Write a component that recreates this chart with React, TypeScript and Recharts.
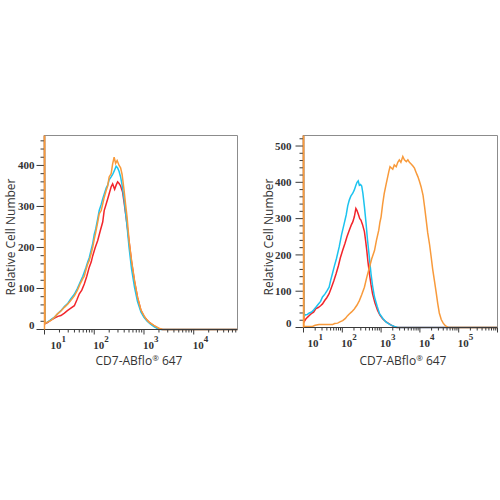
import React from 'react';
import { LineChart, Line, XAxis, YAxis } from 'recharts';

// Histograms: [log10 intensity, cell count]. The first bin piles up to full scale.
type Series = [number, number][];

const leftRed: Series = [
  [1.0, 473], [1.01, 14], [1.06, 17], [1.12, 22], [1.2, 28], [1.27, 32], [1.33, 34],
  [1.4, 40], [1.46, 46], [1.53, 52], [1.6, 58], [1.65, 72], [1.7, 87], [1.75, 96],
  [1.8, 111], [1.85, 130], [1.9, 152], [1.94, 165], [1.97, 180], [2.02, 200],
  [2.07, 217], [2.12, 240], [2.17, 262], [2.2, 290], [2.24, 306], [2.27, 318],
  [2.3, 331], [2.34, 348], [2.37, 355], [2.41, 342], [2.44, 352], [2.47, 360],
  [2.5, 356], [2.53, 350], [2.57, 335], [2.6, 310], [2.64, 274], [2.67, 245],
  [2.7, 215], [2.75, 165], [2.81, 117], [2.87, 78], [2.94, 46], [3.0, 32],
  [3.06, 23], [3.12, 16], [3.2, 9], [3.28, 3], [3.36, 0], [4.88, 0],
];

const leftCyan: Series = [
  [1.0, 473], [1.01, 15], [1.06, 18], [1.13, 24], [1.2, 30], [1.26, 38], [1.33, 46],
  [1.4, 56], [1.47, 64], [1.53, 75], [1.6, 86], [1.66, 100], [1.72, 116], [1.77, 130],
  [1.83, 150], [1.87, 165], [1.9, 175], [1.94, 195], [1.97, 210], [2.0, 232],
  [2.03, 245], [2.07, 270], [2.1, 290], [2.14, 305], [2.17, 318], [2.2, 330],
  [2.24, 345], [2.27, 352], [2.3, 365], [2.34, 372], [2.37, 378], [2.4, 386],
  [2.44, 398], [2.47, 394], [2.5, 385], [2.53, 372], [2.56, 352], [2.6, 318],
  [2.63, 285], [2.66, 252], [2.7, 200], [2.75, 148], [2.81, 103], [2.87, 68],
  [2.94, 42], [3.0, 30], [3.06, 21], [3.12, 14], [3.2, 7], [3.28, 2], [3.34, 0],
  [4.88, 0],
];

const leftOrange: Series = [
  [1.0, 473], [1.01, 15], [1.06, 18], [1.13, 22], [1.2, 30], [1.26, 38], [1.33, 45],
  [1.4, 54], [1.47, 62], [1.53, 71], [1.6, 82], [1.66, 95], [1.72, 112], [1.77, 124],
  [1.8, 130], [1.83, 144], [1.87, 160], [1.9, 168], [1.94, 186], [1.97, 201],
  [2.0, 220], [2.03, 237], [2.07, 262], [2.1, 282], [2.14, 290], [2.17, 306],
  [2.2, 322], [2.24, 339], [2.27, 350], [2.3, 372], [2.34, 380], [2.37, 404],
  [2.4, 420], [2.43, 405], [2.46, 412], [2.5, 400], [2.53, 394], [2.56, 378],
  [2.6, 339], [2.63, 305], [2.66, 274], [2.7, 217], [2.75, 168], [2.81, 119],
  [2.87, 79], [2.94, 47], [3.0, 34], [3.04, 26], [3.1, 18], [3.2, 10], [3.3, 3],
  [3.38, 0], [4.88, 0],
];

const rightRed: Series = [
  [1.0, 529], [1.01, 15], [1.05, 22], [1.1, 28], [1.15, 33], [1.2, 38], [1.26, 42],
  [1.32, 52], [1.38, 55], [1.44, 60], [1.49, 65], [1.55, 75], [1.6, 82], [1.66, 93],
  [1.72, 110], [1.78, 128], [1.84, 148], [1.9, 170], [1.95, 192], [2.01, 213],
  [2.07, 232], [2.12, 250], [2.18, 268], [2.23, 282], [2.27, 291], [2.31, 305],
  [2.35, 328], [2.38, 322], [2.42, 310], [2.45, 300], [2.48, 296], [2.52, 284],
  [2.57, 264], [2.6, 240], [2.63, 213], [2.66, 182], [2.7, 148], [2.74, 118],
  [2.78, 93], [2.84, 68], [2.91, 47], [2.97, 34], [3.04, 24], [3.12, 16],
  [3.21, 10], [3.3, 4], [3.39, 0], [6.0, 0],
];

const rightCyan: Series = [
  [1.0, 529], [1.01, 30], [1.05, 35], [1.1, 36], [1.15, 40], [1.2, 42], [1.26, 48],
  [1.32, 56], [1.38, 64], [1.44, 72], [1.49, 84], [1.55, 92], [1.6, 100], [1.66, 111],
  [1.7, 130], [1.75, 150], [1.79, 167], [1.85, 190], [1.92, 222], [1.98, 255],
  [2.05, 287], [2.1, 310], [2.14, 335], [2.18, 351], [2.22, 362], [2.27, 370],
  [2.31, 379], [2.35, 392], [2.38, 400], [2.41, 404], [2.44, 392], [2.47, 394],
  [2.5, 390], [2.53, 370], [2.57, 333], [2.61, 290], [2.65, 241], [2.7, 190],
  [2.74, 148], [2.78, 115], [2.83, 84], [2.9, 58], [2.96, 38], [3.05, 24],
  [3.13, 15], [3.23, 8], [3.34, 3], [3.43, 0], [6.0, 0],
];

const rightOrange: Series = [
  [1.0, 529], [1.01, 3], [1.15, 3], [1.23, 3], [1.3, 6], [1.4, 8], [1.49, 8],
  [1.6, 8], [1.7, 8], [1.75, 8], [1.8, 11], [1.88, 12], [1.95, 16], [2.01, 19],
  [2.08, 25], [2.13, 32], [2.18, 37], [2.24, 43], [2.31, 51], [2.38, 62],
  [2.44, 74], [2.5, 90], [2.57, 111], [2.63, 138], [2.7, 166], [2.76, 190],
  [2.83, 212], [2.88, 240], [2.94, 268], [2.97, 290], [3.0, 305], [3.04, 340],
  [3.08, 369], [3.13, 395], [3.17, 415], [3.2, 430], [3.23, 443], [3.26, 440],
  [3.3, 436], [3.34, 448], [3.39, 443], [3.43, 455], [3.47, 462], [3.51, 455],
  [3.56, 471], [3.6, 462], [3.65, 457], [3.69, 462], [3.73, 455], [3.78, 450],
  [3.82, 445], [3.86, 439], [3.9, 428], [3.95, 415], [3.99, 402], [4.03, 388],
  [4.08, 365], [4.12, 333], [4.16, 298], [4.2, 262], [4.25, 228], [4.29, 195],
  [4.33, 160], [4.38, 125], [4.42, 96], [4.46, 66], [4.5, 40], [4.55, 22],
  [4.6, 12], [4.64, 7], [4.68, 3], [4.72, 1], [4.76, 0], [6.0, 0],
];

// axis decades (10^n) and count labels
const leftDecades = [1, 2, 3, 4];
const rightDecades = [1, 2, 3, 4, 5];
const leftCounts = [0, 100, 200, 300, 400];
const rightCounts = [0, 100, 200, 300, 400, 500];

const RED = '#f2252b';
const CYAN = '#1cc3ef';
const ORANGE = '#f89a3b';
const AXIS = '#3a3a3a';
const FRAME = '#8c8c8c';
const TICK_FONT = '"Liberation Serif", serif';
const TITLE_FONT = '"Open Sans", sans-serif';
const X_TITLE = 'CD7-ABflo';

// log axis ticks: every 1..9 x 10^n inside the domain
const logTicks = (first: number, max: number) => {
  const out: number[] = [];
  for (let d = first; d <= max; d++) {
    for (let k = 1; k <= 9; k++) {
      const t = d + Math.log10(k);
      if (t <= max + 1e-9) out.push(t);
    }
  }
  return out;
};

const countTicks = (max: number) => {
  const out: number[] = [];
  for (let v = 0; v <= max; v += 20) out.push(v);
  return out;
};

interface PanelProps {
  left: number;
  top: number;
  margin: { top: number; right: number; bottom: number; left: number };
  yWidth: number;
  xMax: number;
  yMax: number;
  decades: number[];
  counts: number[];
  red: Series;
  cyan: Series;
  orange: Series;
  labelGap: number;
  firstShift: number;
  yTitleX: number;
  xTitleX: number;
}

const W = 250;
const H = 260;
const X_AXIS_H = 40;

const Panel: React.FC<PanelProps> = (p) => {
  // plot box edges, local to the panel
  const boxL = p.margin.left + p.yWidth;
  const boxR = W - p.margin.right;
  const boxT = p.margin.top;
  const boxB = H - p.margin.bottom - X_AXIS_H;

  const xTick = (t: any) => {
    const v = t.payload.value;
    const major = Math.abs(v - Math.round(v)) < 1e-6;
    const exp = Math.round(v);
    const showLabel = major && p.decades.includes(exp);
    return (
      <g>
        <line x1={t.x} x2={t.x} y1={t.y} y2={t.y + (major ? 5 : 3)} stroke={AXIS} strokeWidth={1} />
        {showLabel && (
          <text
            x={t.x + (exp === p.decades[0] ? p.firstShift : -1)}
            y={t.y + 19}
            textAnchor="start"
            fontFamily={TICK_FONT}
            fontWeight="bold"
            fontSize={11}
            fill="#333"
          >
            10
            <tspan dy={-7} fontSize={9}>{exp}</tspan>
          </text>
        )}
      </g>
    );
  };

  const yTick = (t: any) => {
    const v = t.payload.value;
    const major = v % 100 === 0;
    const showLabel = major && p.counts.includes(v);
    return (
      <g>
        <line x1={t.x} x2={t.x - (major ? 8 : 4)} y1={t.y} y2={t.y} stroke={AXIS} strokeWidth={1} />
        {showLabel && (
          <text
            x={t.x - p.labelGap}
            y={v === 0 ? t.y - 4 : t.y}
            dy="0.35em"
            textAnchor="end"
            fontFamily={TICK_FONT}
            fontWeight="bold"
            fontSize={11}
            fill="#333"
          >
            {v}
          </text>
        )}
      </g>
    );
  };

  const toRows = (s: Series) => s.map(([lg, n]) => ({ lg, n }));

  return (
    <div style={{ position: 'absolute', left: p.left, top: p.top, width: W, height: H }}>
      <LineChart width={W} height={H} margin={p.margin}>
        <XAxis
          dataKey="lg"
          type="number"
          domain={[1, p.xMax]}
          ticks={logTicks(1, p.xMax)}
          interval={0}
          tick={xTick}
          tickLine={false}
          tickSize={0}
          tickMargin={0}
          height={X_AXIS_H}
          axisLine={{ stroke: AXIS }}
        />
        <YAxis
          type="number"
          domain={[0, p.yMax]}
          ticks={countTicks(p.yMax)}
          interval={0}
          tick={yTick}
          tickLine={false}
          tickSize={0}
          tickMargin={0}
          width={p.yWidth}
          axisLine={{ stroke: AXIS }}
        />
        <Line data={toRows(p.red)} dataKey="n" type="linear" stroke={RED} strokeWidth={1.5} dot={false} isAnimationActive={false} />
        <Line data={toRows(p.cyan)} dataKey="n" type="linear" stroke={CYAN} strokeWidth={1.5} dot={false} isAnimationActive={false} />
        <Line data={toRows(p.orange)} dataKey="n" type="linear" stroke={ORANGE} strokeWidth={1.5} dot={false} isAnimationActive={false} />
      </LineChart>
      {/* frame edges and axis titles laid over the chart */}
      <svg width={W} height={H} style={{ position: 'absolute', left: 0, top: 0, pointerEvents: 'none' }}>
        <line x1={boxL} x2={boxR} y1={boxT} y2={boxT} stroke={FRAME} strokeWidth={1} />
        <line x1={boxR} x2={boxR} y1={boxT} y2={boxB} stroke={FRAME} strokeWidth={1} />
        <line x1={boxL} x2={boxL} y1={boxT} y2={boxB} stroke={ORANGE} strokeWidth={1.5} />
        <text x={p.xTitleX} y={244.5} textAnchor="middle" fontFamily={TITLE_FONT} fontSize={12} fill="#333">
          {X_TITLE}
          <tspan fontSize={8} dy={-4}>®</tspan>
          <tspan dy={4}> 647</tspan>
        </text>
        <text
          x={p.yTitleX}
          y={117}
          transform={`rotate(-90 ${p.yTitleX} 117)`}
          textAnchor="middle"
          dominantBaseline="central"
          fontFamily={TITLE_FONT}
          fontSize={12}
          fill="#333"
        >
          Relative Cell Number
        </text>
      </svg>
    </div>
  );
};

export default function App() {
  return (
    <div style={{ position: 'absolute', left: 0, top: 0, width: 500, height: 500, background: '#fff' }}>
      <Panel
        left={0}
        top={120}
        margin={{ top: 15.5, right: 12.5, bottom: 10.5, left: 10.5 }}
        yWidth={34}
        xMax={4.88}
        yMax={473}
        decades={leftDecades}
        counts={leftCounts}
        red={leftRed}
        cyan={leftCyan}
        orange={leftOrange}
        labelGap={10}
        firstShift={6}
        yTitleX={10.5}
        xTitleX={139}
      />
      <Panel
        left={250}
        top={120}
        margin={{ top: 15.5, right: 2.5, bottom: 12.5, left: 13.5 }}
        yWidth={40}
        xMax={6}
        yMax={529}
        decades={rightDecades}
        counts={rightCounts}
        red={rightRed}
        cyan={rightCyan}
        orange={rightOrange}
        labelGap={12}
        firstShift={4}
        yTitleX={18}
        xTitleX={153}
      />
    </div>
  );
}
